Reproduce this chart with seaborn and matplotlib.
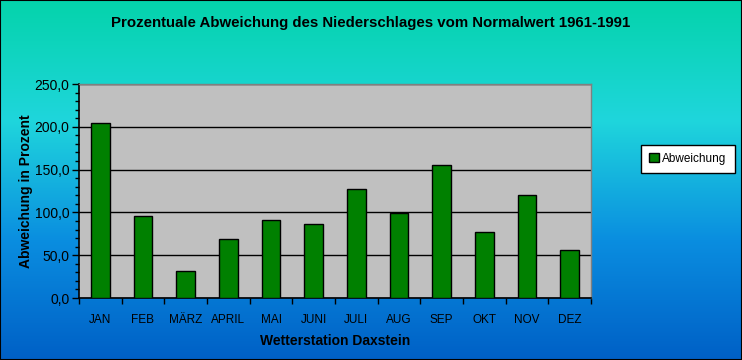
#!/usr/bin/env python3
"""Prozentuale Abweichung des Niederschlages - Wetterstation Daxstein."""
import numpy as np
import pandas as pd
import matplotlib
matplotlib.use('Agg')
import matplotlib.pyplot as plt
from matplotlib.colors import LinearSegmentedColormap
from matplotlib.ticker import MultipleLocator, FuncFormatter
import seaborn as sns

months = ['JAN', 'FEB', 'MÄRZ', 'APRIL', 'MAI', 'JUNI', 'JULI', 'AUG', 'SEP', 'OKT', 'NOV', 'DEZ']
abweichung = [205, 96, 31, 69, 91, 86, 127, 99, 155, 77, 120, 56]

df = pd.DataFrame({'Monat': months, 'Abweichung': abweichung})

sns.set_style('white')
plt.rcParams['font.family'] = ['Liberation Sans', 'DejaVu Sans']
plt.rcParams['text.color'] = 'black'
plt.rcParams['axes.labelcolor'] = 'black'
plt.rcParams['xtick.color'] = 'black'
plt.rcParams['ytick.color'] = 'black'

fig = plt.figure(figsize=(7.42, 3.6), dpi=100)

# gradient background (teal at top -> blue at bottom)
bg = fig.add_axes([0, 0, 1, 1], zorder=-10)
cmap = LinearSegmentedColormap.from_list('bg', ['#04d3ab', '#1fd6dc', '#0a8ee0', '#0060c6'])
bg.imshow(np.linspace(0, 1, 256).reshape(-1, 1), aspect='auto', cmap=cmap,
          extent=[0, 1, 0, 1])
bg.set_axis_off()
fig.add_artist(plt.Rectangle((0, 0), 1, 1, transform=fig.transFigure,
                             fill=False, edgecolor='black', linewidth=1.5))

ax = fig.add_axes([79 / 742, 62 / 360, 512 / 742, 214 / 360])
ax.set_facecolor('#c0c0c0')
sns.barplot(data=df, x='Monat', y='Abweichung', color='#008000', saturation=1,
            edgecolor='black', linewidth=1, width=0.43, ax=ax, zorder=3)

ax.set_ylim(0, 250)
ax.set_xlim(-0.5, 11.5)
ax.yaxis.set_major_locator(MultipleLocator(50))
ax.yaxis.set_minor_locator(MultipleLocator(10))
ax.yaxis.set_major_formatter(FuncFormatter(lambda v, p: f'{v:.1f}'.replace('.', ',')))
ax.grid(axis='y', which='major', color='black', linewidth=1, zorder=1)
ax.set_axisbelow(True)

ax.tick_params(axis='y', which='major', left=True, length=5, width=1, labelsize=10,
               labelcolor='black', pad=2)
ax.tick_params(axis='y', which='minor', left=True, length=3, width=1)
ax.set_xticks(np.arange(-0.5, 12, 1), minor=True)
ax.tick_params(axis='x', which='minor', bottom=True, length=4, width=1, direction='out')
ax.tick_params(axis='x', which='major', bottom=False, labelsize=8.5, pad=8,
               labelcolor='black')

for side in ['left', 'bottom']:
    ax.spines[side].set_color('black')
    ax.spines[side].set_linewidth(1.2)
for side in ['top', 'right']:
    ax.spines[side].set_color('#808080')
    ax.spines[side].set_linewidth(1)

ax.set_xlabel('Wetterstation Daxstein', fontsize=10, fontweight='bold', labelpad=6,
              color='black')
ax.set_ylabel('Abweichung in Prozent', fontsize=10, fontweight='bold', labelpad=1,
              color='black')

fig.text(0.5, 0.935, 'Prozentuale Abweichung des Niederschlages vom Normalwert 1961-1991',
         ha='center', va='center', fontsize=10.8, fontweight='bold', color='black')

handle = plt.Rectangle((0, 0), 1, 1, facecolor='#008000', edgecolor='black', linewidth=1)
leg = fig.legend([handle], ['Abweichung'], loc='center',
                 bbox_to_anchor=(688 / 742, 1 - 159 / 360),
                 frameon=True, fancybox=False, edgecolor='black', framealpha=1,
                 fontsize=8.5, handlelength=0.8, handleheight=0.8, handletextpad=0.3,
                 borderpad=0.7, borderaxespad=0)
leg.get_frame().set_linewidth(1)
for t in leg.get_texts():
    t.set_color('black')

plt.savefig('out.png', dpi=100)
plt.close()
